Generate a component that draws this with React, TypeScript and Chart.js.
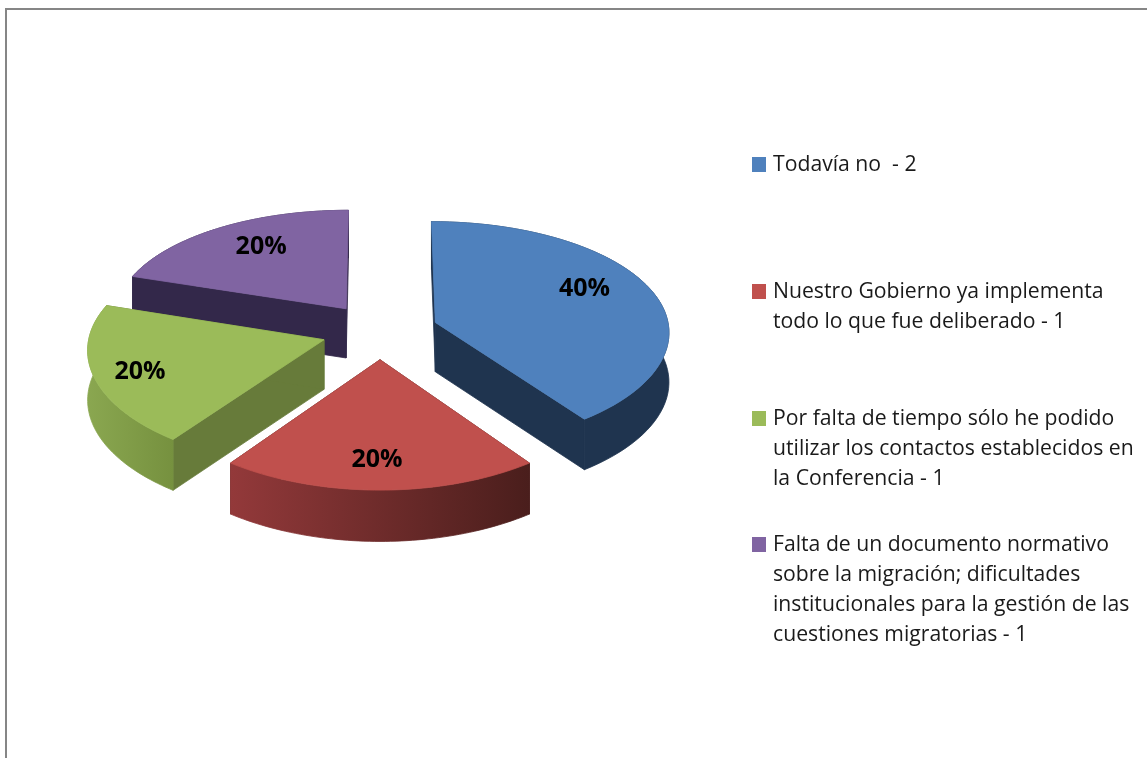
import React, { useEffect, useRef } from "react";
import { Chart, registerables } from "chart.js";

Chart.register(...registerables);

const categories = [
  ["Todavía no  - 2"],
  ["Nuestro Gobierno ya implementa", "todo lo que fue deliberado - 1"],
  ["Por falta de tiempo sólo he podido", "utilizar los contactos establecidos en", "la Conferencia - 1"],
  ["Falta de un documento normativo", "sobre la migración; dificultades", "institucionales para la gestión de las", "cuestiones migratorias - 1"],
];
const values = [2, 1, 1, 1];
const topColors = ["#4f81bd", "#c0504d", "#9bbb59", "#8064a2"];
const wallColors = ["#1f344f", "#4a1e1c", "#677b3a", "#33284a"];
const outerLeft = ["#1f344f", "#93393a", "#8aa750", "#33284a"];
const outerRight = ["#1f344f", "#4a1e1c", "#76913f", "#33284a"];
const drawOrder = [3, 0, 2, 1];
const labelAtX = [0.9, -0.012, -0.999, -0.539];
const labelAtZ = [-0.398, 1.03, 0.345, -0.818];
const legendFirstLineY = [165, 292, 419, 545];

const CX = 380, CY = 331, A = 234, B = 112, PX = 0.075, PY = 0.096, EXPLODE = 0.25, DEPTH = 49.5;
const LEGEND_LINE = 30;
const FONT = '"Open Sans", sans-serif';

const project = (X: number, Z: number, drop = 0) => ({
  x: CX + (A * X) / (1 - PX * Z),
  y: CY + (B * Z) / (1 - PY * Z) + drop * (1 + 0.03 * Z),
});

const pie3d = {
  id: "pie3d",
  beforeDraw(chart: any) {
    const { ctx, width, height } = chart;
    ctx.save();
    ctx.fillStyle = "#ffffff";
    ctx.fillRect(0, 0, width, height);
    ctx.fillStyle = "#868686";
    ctx.fillRect(5, 8, width - 5, 2);
    ctx.fillRect(5, 8, 2, height - 8);
    ctx.restore();
  },
  beforeDatasetsDraw(chart: any) {
    const { ctx } = chart;
    const arcs = chart.getDatasetMeta(0).data;
    ctx.save();
    ctx.lineJoin = "round";
    drawOrder.forEach((i) => {
      const arc = arcs[i];
      const a0 = arc.startAngle, a1 = arc.endAngle, mid = (a0 + a1) / 2;
      const ox = Math.cos(mid) * EXPLODE, oz = Math.sin(mid) * EXPLODE;
      const n = 60;
      const rim: [number, number][] = [];
      for (let k = 0; k <= n; k++) {
        const a = a0 + ((a1 - a0) * k) / n;
        rim.push([ox + Math.cos(a), oz + Math.sin(a)]);
      }
      const poly = (pts: { x: number; y: number }[], fill: any) => {
        ctx.beginPath();
        pts.forEach((p, idx) => (idx ? ctx.lineTo(p.x, p.y) : ctx.moveTo(p.x, p.y)));
        ctx.closePath();
        ctx.fillStyle = fill;
        ctx.fill();
        ctx.strokeStyle = fill;
        ctx.lineWidth = 0.8;
        ctx.stroke();
      };
      const apex = project(ox, oz), apexLow = project(ox, oz, DEPTH);
      const first = project(rim[0][0], rim[0][1]), firstLow = project(rim[0][0], rim[0][1], DEPTH);
      const last = project(rim[n][0], rim[n][1]), lastLow = project(rim[n][0], rim[n][1], DEPTH);
      poly([apex, first, firstLow, apexLow], wallColors[i]);
      poly([apex, last, lastLow, apexLow], wallColors[i]);
      const top = rim.map((r) => project(r[0], r[1]));
      const low = rim.map((r) => project(r[0], r[1], DEPTH)).reverse();
      const xs = top.map((p) => p.x);
      const g = ctx.createLinearGradient(Math.min(...xs), 0, Math.max(...xs), 0);
      g.addColorStop(0, outerLeft[i]);
      g.addColorStop(1, outerRight[i]);
      poly([...top, ...low], g);
      poly([apex, ...top], topColors[i]);
    });
    const total = values.reduce((a, b) => a + b, 0);
    ctx.fillStyle = "#000000";
    ctx.font = `bold 25px ${FONT}`;
    ctx.textAlign = "center";
    ctx.textBaseline = "middle";
    arcs.forEach((_arc: any, i: number) => {
      const p = project(labelAtX[i], labelAtZ[i]);
      ctx.fillText(`${Math.round((values[i] / total) * 100)}%`, p.x, p.y + 1);
    });
    ctx.font = `21.2px ${FONT}`;
    ctx.textAlign = "left";
    categories.forEach((lines, i) => {
      ctx.fillStyle = topColors[i];
      ctx.fillRect(752, legendFirstLineY[i] - 8, 14, 15);
      ctx.fillStyle = "#1a1a1a";
      lines.forEach((t, j) => ctx.fillText(t, 773, legendFirstLineY[i] + j * LEGEND_LINE));
    });
    ctx.restore();
    return false;
  },
};

export default function App() {
  const ref = useRef<HTMLCanvasElement>(null);
  useEffect(() => {
    const chart = new Chart(ref.current as HTMLCanvasElement, {
      type: "pie",
      data: {
        labels: categories.map((c) => c.join(" ")),
        datasets: [{ data: values, backgroundColor: topColors, borderWidth: 0 }],
      },
      options: {
        responsive: false,
        animation: false,
        plugins: { legend: { display: false }, tooltip: { enabled: false } },
      },
      plugins: [pie3d],
    } as any);
    return () => chart.destroy();
  }, []);
  return (
    <canvas
      ref={ref}
      width={1147}
      height={758}
      style={{ position: "absolute", left: 0, top: 0, display: "block" }}
    />
  );
}
